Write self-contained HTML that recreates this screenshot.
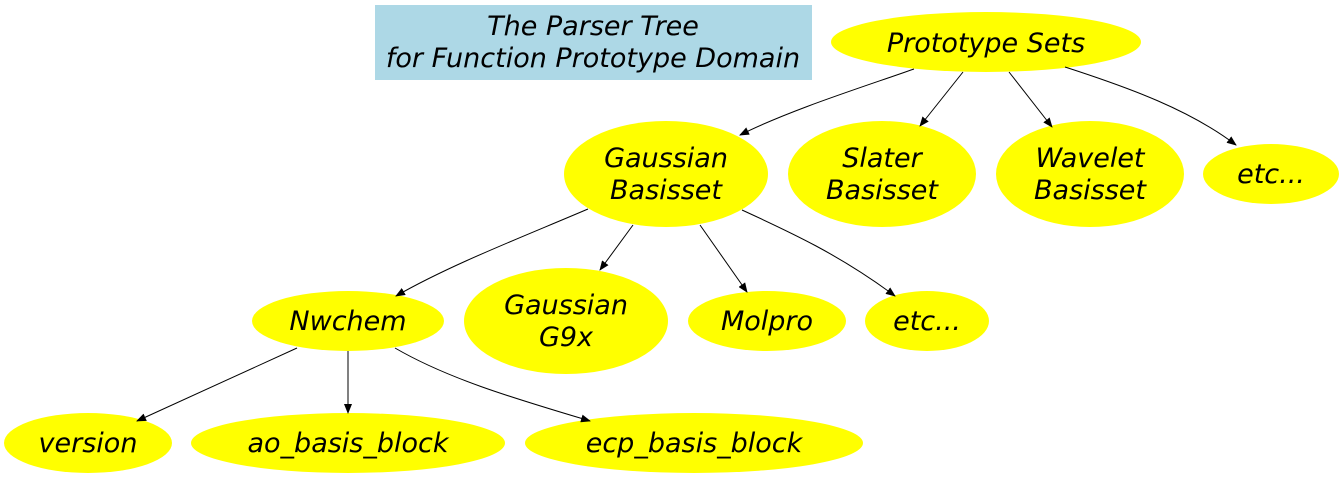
<!DOCTYPE html>
<html><head><meta charset="utf-8"><style>
html,body{margin:0;padding:0;background:#fff;}
svg{display:block;}
text{font-family:"DejaVu Sans","Liberation Sans",sans-serif;font-style:oblique;font-size:27px;fill:#000;text-anchor:middle;}
</style></head><body>
<svg width="1344" height="478" viewBox="0 0 1344 478" xmlns="http://www.w3.org/2000/svg">
<defs><marker id="a" markerWidth="10" markerHeight="8" refX="9" refY="4" orient="auto" markerUnits="userSpaceOnUse"><path d="M0,0 L10,4 L0,8 z" fill="#000"/></marker></defs>
<rect x="375" y="5" width="437" height="75" fill="#add8e6"/>
<text x="593" y="35">The Parser Tree</text>
<text x="593" y="67">for Function Prototype Domain</text>
<g fill="#ffff00">
<ellipse cx="986" cy="42" rx="155" ry="30"/>
<ellipse cx="666" cy="174" rx="102" ry="53"/>
<ellipse cx="882" cy="174" rx="94" ry="53"/>
<ellipse cx="1090" cy="174" rx="94" ry="53"/>
<ellipse cx="1271" cy="174" rx="68" ry="30"/>
<ellipse cx="348" cy="321" rx="96" ry="30"/>
<ellipse cx="566" cy="321" rx="102" ry="53"/>
<ellipse cx="767" cy="321" rx="79" ry="30"/>
<ellipse cx="927" cy="321" rx="62" ry="30"/>
<ellipse cx="88" cy="443" rx="84" ry="30"/>
<ellipse cx="348" cy="443" rx="157" ry="30"/>
<ellipse cx="694" cy="443" rx="169" ry="30"/>
</g>
<g stroke="#000" stroke-width="1" fill="none" marker-end="url(#a)">
<path d="M914,69 C860,88 790,110 740,135"/>
<path d="M963,72 L920,126"/>
<path d="M1009,72 L1052,127"/>
<path d="M1065,67 C1130,88 1190,110 1236,145"/>
<path d="M588,209 C520,238 450,265 396,296"/>
<path d="M633,225 L600,270"/>
<path d="M700,225 L747,292"/>
<path d="M742,210 C790,232 840,255 895,296"/>
<path d="M297,348 L137,421"/>
<path d="M348,351 L348,413"/>
<path d="M395,348 C450,380 520,400 590,421"/>
</g>
<text x="986" y="52">Prototype Sets</text>
<text x="666" y="167">Gaussian</text><text x="666" y="199">Basisset</text>
<text x="882" y="167">Slater</text><text x="882" y="199">Basisset</text>
<text x="1090" y="167">Wavelet</text><text x="1090" y="199">Basisset</text>
<text x="1271" y="183">etc...</text>
<text x="348" y="330">Nwchem</text>
<text x="566" y="314">Gaussian</text><text x="566" y="346">G9x</text>
<text x="767" y="330">Molpro</text>
<text x="927" y="330">etc...</text>
<text x="88" y="452">version</text>
<text x="348" y="452">ao_basis_block</text>
<text x="694" y="452">ecp_basis_block</text>
</svg>
</body></html>
